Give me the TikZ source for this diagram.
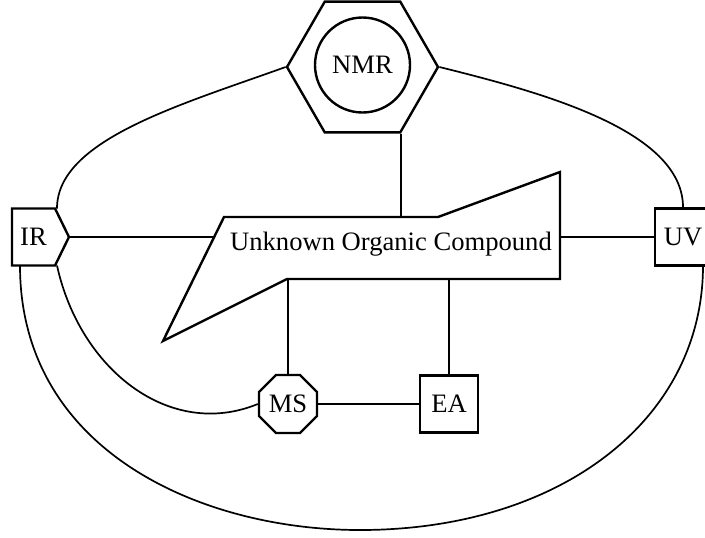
\documentclass[tikz,border=0pt]{standalone}
\usepackage{fontspec}
\setmainfont{Liberation Serif}
\usetikzlibrary{shapes.geometric,shapes.symbols,calc}

\begin{document}
\begin{tikzpicture}[x=0.5pt, y=-0.5pt, font=\fontsize{13.3}{16}\selectfont, inode/.style={draw=black, line width=1.2pt, fill=white, inner sep=0pt}, link/.style={line width=0.85pt}]
	\useasboundingbox (0,0) rectangle (705,537);
	\node[inode, regular polygon, regular polygon sides=6, minimum size=75.5pt] (nmr) at (362.5,67) {};
	\node[inode, circle, minimum size=47.5pt] (nmrc) at (362.5,65) {NMR};
	\node[inode, signal, signal to=east, signal pointer angle=128, minimum width=28.5pt, minimum height=28.5pt] (ir) at (33.5,237) {IR};
	\node[inode, rectangle, minimum width=28pt, minimum height=28.5pt] (uv) at (683,237) {UV};
	\node[inode, regular polygon, regular polygon sides=8, minimum size=31.4pt] (ms) at (288,404) {MS};
	\node[inode, rectangle, minimum width=29pt, minimum height=28.5pt] (ea) at (449,404) {EA};
	% the compound outline
	\coordinate (c1) at (224,217);
	\coordinate (c2) at (438,217);
	\coordinate (c3) at (560,172);
	\coordinate (c4) at (560,279);
	\coordinate (c5) at (287,279);
	\coordinate (c6) at (163,341);
	\draw[link] (ir.east) -- (ir.east -| c1);
	\draw[inode] (c1) -- (c2) -- (c3) -- (c4) -- (c5) -- (c6) -- cycle;
	\node (cmp) at (391,244) {Unknown Organic Compound};
	\draw[link] (uv.west -| c4) -- (uv.west);
	\draw[link] (nmr.corner 5) -- (nmr.corner 5 |- c1);
	\draw[link] (ms.north) -- (ms.north |- c5);
	\draw[link] (ea.north) -- (ea.north |- c5);
	\draw[link] (ms.east) -- (ea.west);
	% curved links
	\draw[link] ($(ir.center)+(23.5,-28.5)$) .. controls (57,140) and (180,105) .. (nmr.corner 3);
	\draw[link] (nmr.corner 6) .. controls (540,92) and (683,130) .. (uv.north);
	\draw[link] ($(ir.center)+(23.5,28.5)$) .. controls (80,370) and (170,440) .. (ms.west);
	\draw[link] ($(ir.center)+(-13.5,28.5)$) .. controls (20,450) and (200,530) .. (360,530) .. controls (560,530) and (703,420) .. ($(uv.center)+(20,28.5)$);
\end{tikzpicture}
\end{document}
